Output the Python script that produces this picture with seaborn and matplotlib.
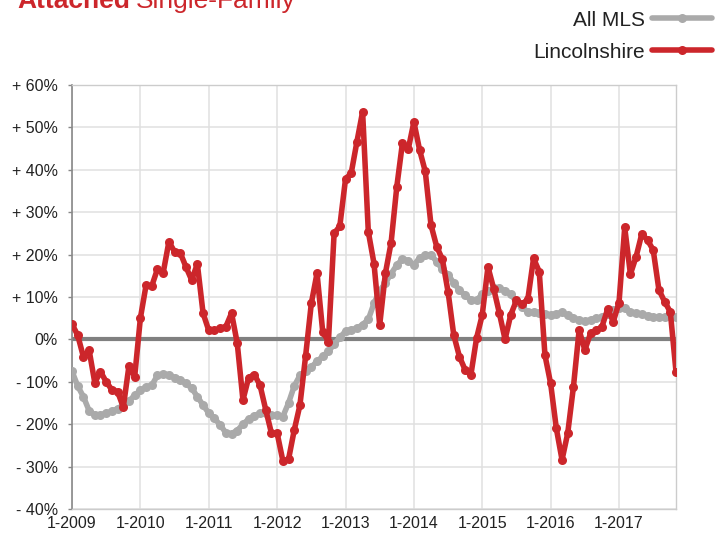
import numpy as np
import pandas as pd
import matplotlib
matplotlib.use("Agg")
import matplotlib.pyplot as plt
from matplotlib.lines import Line2D
import seaborn as sns

# Данные: помесячное изменение, янв 2009 - ноя 2017 (в %)
all_mls = [
    -7.5, -11.0, -13.5, -16.8, -17.8, -17.8, -17.4, -17.0, -16.3, -15.5, -14.5, -13.2,
    -12.0, -11.2, -10.8, -8.5, -8.2, -8.3, -9.0, -9.5, -10.4, -11.5, -13.5, -15.5,
    -17.4, -18.6, -20.2, -22.0, -22.2, -21.5, -20.0, -18.8, -18.0, -17.4, -17.4, -17.8,
    -17.8, -18.2, -15.0, -11.0, -8.5, -7.5, -6.5, -5.2, -4.0, -2.8, -1.2, 0.5,
    1.9, 2.3, 2.6, 3.5, 4.7, 8.5, 11.5, 13.3, 15.5, 17.5, 19.0, 18.6,
    17.6, 19.2, 19.9, 20.0, 18.3, 16.5, 15.3, 13.3, 11.6, 10.4, 9.3, 9.2,
    10.7, 11.4, 12.1, 12.1, 11.5, 10.6, 8.9, 7.6, 6.5, 6.5, 6.3, 6.0,
    5.8, 6.0, 6.4, 5.7, 5.0, 4.6, 4.3, 4.6, 5.0, 5.3, 5.9, 6.9,
    7.5, 7.5, 6.5, 6.2, 5.9, 5.6, 5.3, 5.2, 5.3, 5.5, 5.2,
]
lincolnshire = [
    3.6, 1.0, -4.1, -2.5, -10.2, -7.6, -10.0, -11.9, -12.3, -16.0, -6.2, -8.8,
    5.0, 12.8, 12.6, 16.6, 15.7, 23.0, 20.7, 20.4, 17.1, 14.0, 17.8, 6.2,
    2.1, 2.1, 2.6, 3.0, 6.2, -0.9, -14.3, -9.0, -8.3, -10.8, -16.6, -22.1,
    -22.1, -28.6, -28.3, -21.4, -15.5, -3.9, 8.5, 15.6, 1.8, -0.5, 25.0, 26.7,
    37.8, 39.2, 46.6, 53.7, 25.4, 17.9, 3.4, 15.6, 22.8, 36.0, 46.4, 44.8,
    51.3, 44.7, 39.6, 27.0, 21.9, 18.9, 11.2, 1.0, -4.1, -7.2, -8.4, 0.3,
    5.8, 17.1, 12.0, 6.2, 0.0, 5.8, 9.2, 8.3, 9.5, 19.1, 16.0, -3.7,
    -10.4, -21.0, -28.4, -22.1, -11.2, 2.2, -2.5, 1.4, 2.1, 3.0, 7.1, 4.2,
    8.7, 26.4, 15.4, 19.5, 24.9, 23.4, 21.1, 11.7, 8.9, 6.5, -7.6,
]
year_labels = ["1-2009", "1-2010", "1-2011", "1-2012", "1-2013",
               "1-2014", "1-2015", "1-2016", "1-2017"]
y_ticks = [-40, -30, -20, -10, 0, 10, 20, 30, 40, 50, 60]

RED = "#cc262b"
GRAY = "#aaaaaa"

df = pd.DataFrame({
    "month": np.arange(len(lincolnshire)),
    "All MLS": all_mls,
    "Lincolnshire": lincolnshire,
})

sns.set_theme(style="white")
plt.rcParams["font.family"] = ["Liberation Sans", "DejaVu Sans"]

fig = plt.figure(figsize=(7.15, 5.35), dpi=100)
ax = fig.add_axes([72 / 715, 1 - 509 / 535, (676 - 72) / 715, (509 - 85) / 535])

# Нулевая линия
ax.axhline(0, color="#808080", lw=3, zorder=2)

sns.lineplot(data=df, x="month", y="All MLS", ax=ax, color=GRAY, lw=4,
             marker="o", markersize=6.5, markeredgewidth=0, zorder=3)
sns.lineplot(data=df, x="month", y="Lincolnshire", ax=ax, color=RED, lw=4,
             marker="o", markersize=6.5, markeredgewidth=0, zorder=4)

ax.set_xlim(0, len(lincolnshire) - 1)
ax.set_ylim(-40, 60)
ax.set_xticks(np.arange(0, 12 * len(year_labels), 12))
ax.set_xticklabels(year_labels)
ax.set_yticks(y_ticks)
ax.set_yticklabels([("+ %d%%" % v) if v > 0 else ("0%" if v == 0 else "- %d%%" % -v)
                    for v in y_ticks])
ax.set_xlabel("")
ax.set_ylabel("")

ax.grid(True, color="#e0e0e0", lw=1.1, zorder=0)
ax.tick_params(axis="y", length=3, width=1, color="#888888", pad=7,
               labelsize=11.5, labelcolor="#222222", left=True)
ax.tick_params(axis="x", length=0, pad=5, labelsize=11.5, labelcolor="#222222")
for side in ["top", "right", "bottom"]:
    ax.spines[side].set_color("#cccccc")
    ax.spines[side].set_linewidth(1)
ax.spines["left"].set_color("#888888")
ax.spines["left"].set_linewidth(1.2)

# Легенда справа сверху (текст слева от линии)
for name, color, ypx in [("All MLS", GRAY, 20), ("Lincolnshire", RED, 52)]:
    h = Line2D([], [], color=color, lw=4, marker="o", markersize=6.5,
               markeredgewidth=0)
    fig.legend(handles=[h], labels=[name], loc="center right",
               bbox_to_anchor=(712 / 715, 1 - ypx / 535), frameon=False,
               markerfirst=False, handlelength=2.9, handletextpad=0.3,
               borderpad=0, borderaxespad=0, fontsize=15,
               labelcolor="#222222")

# Заголовок (обрезан сверху, как в оригинале)
fig.text(17 / 715, 1 - 8 / 535, "Attached", color=RED, fontsize=19,
         fontweight="bold", va="baseline")
fig.text(136 / 715, 1 - 8 / 535, "Single-Family", color=RED, fontsize=19,
         va="baseline")

fig.savefig("out.png", dpi=100)
